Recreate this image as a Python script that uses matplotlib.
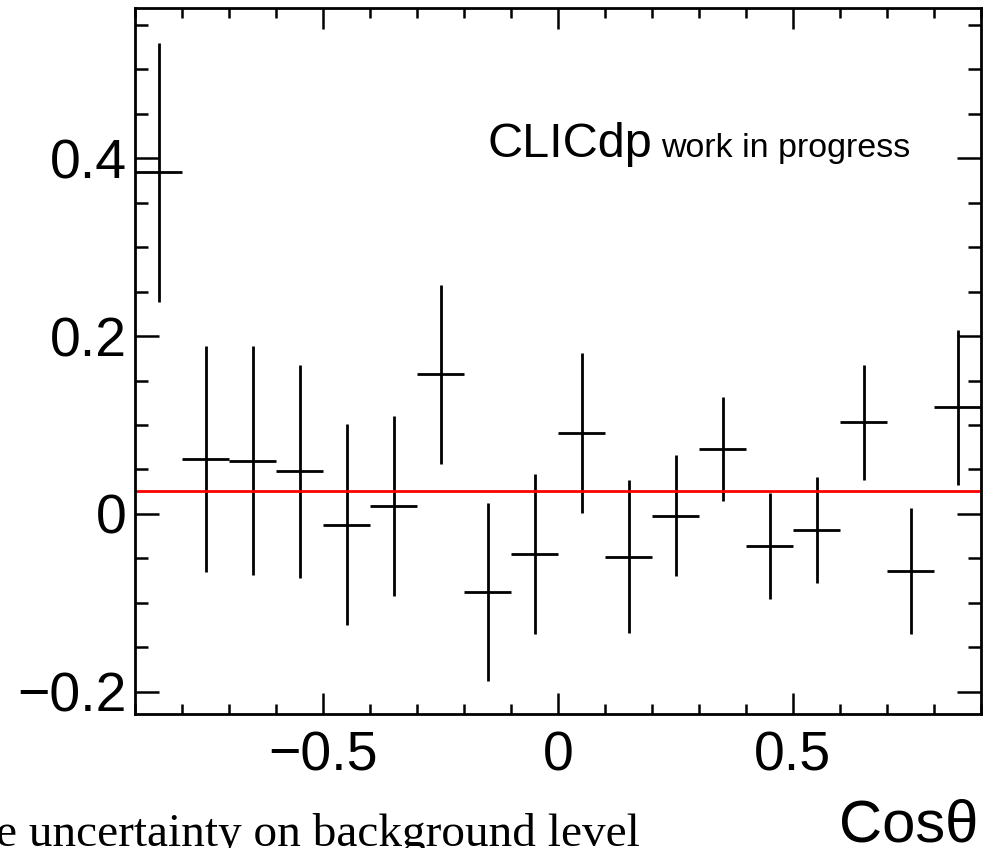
import numpy as np
import matplotlib.pyplot as plt
from matplotlib.ticker import MultipleLocator

# bin centres in cos(theta), 18 bins of width 0.1
bin_centers = [-0.85, -0.75, -0.65, -0.55, -0.45, -0.35, -0.25, -0.15, -0.05,
               0.05, 0.15, 0.25, 0.35, 0.45, 0.55, 0.65, 0.75, 0.85]
bin_half_width = 0.05

values = [0.384, 0.062, 0.060, 0.048, -0.012, 0.009, 0.157, -0.088, -0.045,
          0.091, -0.048, -0.002, 0.073, -0.036, -0.018, 0.103, -0.064, 0.120]
errors = [0.146, 0.127, 0.129, 0.120, 0.113, 0.101, 0.101, 0.100, 0.090,
          0.090, 0.086, 0.068, 0.059, 0.060, 0.060, 0.065, 0.071, 0.087]

background_level = 0.026

x_range = (-0.9, 0.9)
y_range = (-0.225, 0.569)

plt.rcParams['font.family'] = ['Liberation Sans', 'DejaVu Sans']

fig = plt.figure(figsize=(9.83, 8.48), dpi=100)
ax = fig.add_axes([135 / 983, 1 - 714 / 848, 846 / 983, 706 / 848])

# data points with error bars (ROOT style crosses)
ax.errorbar(bin_centers, values, xerr=bin_half_width, yerr=errors,
            fmt='none', ecolor='black', elinewidth=2.0, capsize=0)

# fitted constant background
ax.axhline(background_level, color='red', linewidth=2.0)

ax.set_xlim(*x_range)
ax.set_ylim(*y_range)

ax.xaxis.set_major_locator(MultipleLocator(0.5))
ax.xaxis.set_minor_locator(MultipleLocator(0.1))
ax.yaxis.set_major_locator(MultipleLocator(0.2))
ax.yaxis.set_minor_locator(MultipleLocator(0.05))

ax.xaxis.set_major_formatter(lambda v, p: f"{v:g}".replace('-', '\u2212'))
ax.yaxis.set_major_formatter(lambda v, p: f"{v:g}".replace('-', '\u2212'))

ax.tick_params(axis='both', which='both', direction='in',
               top=True, right=True, width=1.8, labelsize=40)
ax.tick_params(axis='x', which='major', length=15, pad=12)
ax.tick_params(axis='x', which='minor', length=7.5)
ax.tick_params(axis='y', which='major', length=17, pad=6)
ax.tick_params(axis='y', which='minor', length=9.5)

for s in ax.spines.values():
    s.set_linewidth(2.0)

# labels
ax.text(487 / 983, 1 - 157 / 848, 'CLICdp', transform=fig.transFigure,
        fontsize=35, ha='left', va='baseline')
ax.text(661 / 983, 1 - 157 / 848, 'work in progress', transform=fig.transFigure,
        fontsize=24.5, ha='left', va='baseline')

fig.text(978 / 983, 1 - 842 / 848, 'Cos\u03b8', fontsize=43,
         ha='right', va='baseline')

fig.text(-4 / 983, 1 - 846 / 848, 'e uncertainty on background level',
         fontsize=34, family=['Liberation Serif', 'DejaVu Serif'],
         ha='left', va='baseline')

fig.savefig('out.png', dpi=100)
